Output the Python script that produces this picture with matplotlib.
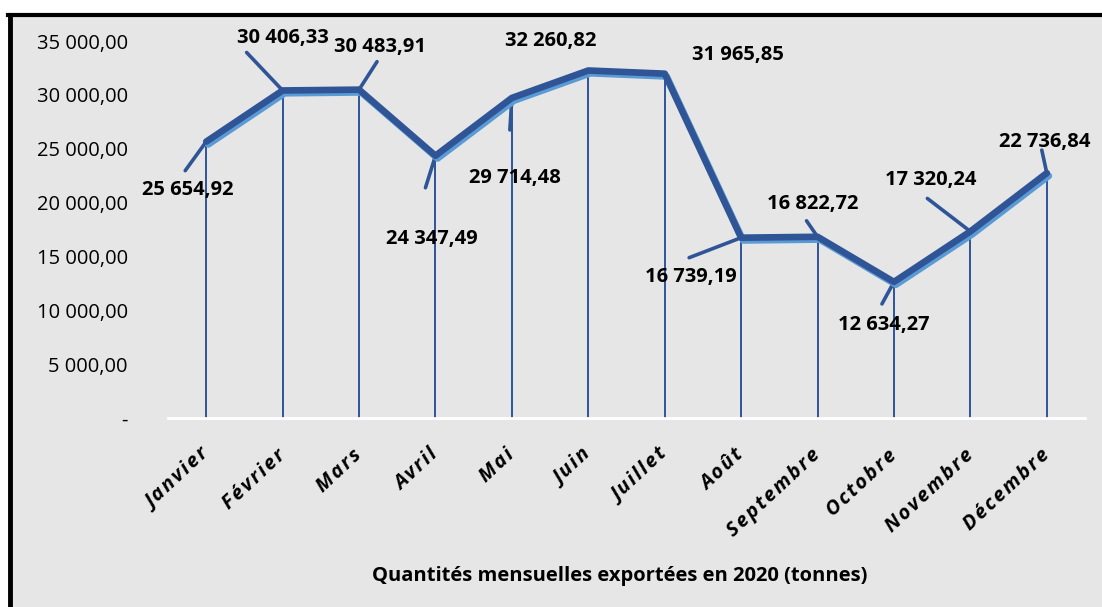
import matplotlib.pyplot as plt
import matplotlib.patheffects as pe
from matplotlib.patches import Rectangle

# ----------------------------
# Data
# ----------------------------
MONTHS = ["Janvier", "Février", "Mars", "Avril", "Mai", "Juin", "Juillet",
          "Août", "Septembre", "Octobre", "Novembre", "Décembre"]
QTY = [25654.92, 30406.33, 30483.91, 24347.49, 29714.48, 32260.82,
       31965.85, 16739.19, 16822.72, 12634.27, 17320.24, 22736.84]
Y_TICKS = [0, 5000, 10000, 15000, 20000, 25000, 30000, 35000]
TITLE = "Quantités mensuelles exportées en 2020 (tonnes)"

# label offsets (pixels) from the point: text centre, leader end (None = no leader)
LABEL_OFF = [(-18, -48), (0, 52), (21, 43), (-4, -83), (3, -80), (-38, 30),
             (73, 19), (-50, -39), (-5, 33), (-10, -43), (-40, 51), (-2, 31)]
LEADER_OFF = [(-21, -29), (-36, 38), (18, 28), (-10, -32), (-2, -32), None,
              None, (-52, -20), (-11, 16), (-12, -22), (-43, 33), (-5, 23)]

DARK = "#2F5597"
LIGHT = "#5B9BD5"
BG = "#E6E6E6"
FONT = ["Open Sans", "DejaVu Sans"]


def fr_num(v):
    if v == 0:
        return "-"
    s = f"{v:,.2f}"
    return s.replace(",", " ").replace(".", ",")


def spaced(s):
    # loose letter spacing like the original axis labels
    return "\u200a".join(s)


fig = plt.figure(figsize=(11.02, 6.07), dpi=100)
fig.patch.set_facecolor("white")

# grey panel with black frame (top + left edges visible)
fig.patches.append(Rectangle((10 / 1102, 0), 1, 1 - 15 / 607, transform=fig.transFigure,
                             facecolor=BG, edgecolor="none", zorder=0))
fig.add_artist(plt.Line2D([10 / 1102, 10 / 1102], [0, 1 - 15 / 607], color="black",
                          lw=3.5, transform=fig.transFigure, zorder=1))
fig.add_artist(plt.Line2D([8 / 1102, 1], [1 - 15 / 607, 1 - 15 / 607], color="black",
                          lw=3, transform=fig.transFigure, zorder=1))

ax = fig.add_axes([168 / 1102, 1 - 418 / 607, (1085 - 168) / 1102, (418 - 41) / 607])
ax.set_zorder(5)
ax.patch.set_alpha(0)

x = list(range(len(MONTHS)))
ax.set_xlim(-0.5, 11.5)
ax.set_ylim(0, 35000)

# drop lines
ax.vlines(x, 0, QTY, color=DARK, lw=1.4, zorder=2)

ax.plot(x, QTY, color=DARK, lw=4.8, solid_joinstyle="round", solid_capstyle="round", zorder=4,
        path_effects=[pe.SimpleLineShadow(offset=(1.5, -2), shadow_color=LIGHT, alpha=1),
                      pe.Normal()])

for i, v in enumerate(QTY):
    tx, ty = LABEL_OFF[i]
    ax.annotate(fr_num(v), (i, v), xytext=(tx, ty), textcoords="offset pixels",
                ha="center", va="center", fontsize=14.5, fontweight="bold",
                family=FONT, color="black", zorder=5, annotation_clip=False)
    if LEADER_OFF[i] is not None:
        lx, ly = LEADER_OFF[i]
        ax.annotate("", (i, v), xytext=(lx, ly), textcoords="offset pixels",
                    arrowprops=dict(arrowstyle="-", color=DARK, lw=2.6,
                                    shrinkA=0, shrinkB=0), zorder=3)

for s in ["top", "right", "left"]:
    ax.spines[s].set_visible(False)
ax.spines["bottom"].set_color("white")
ax.spines["bottom"].set_linewidth(2)

ax.set_yticks(Y_TICKS)
ax.set_yticklabels([fr_num(t) for t in Y_TICKS], family=FONT, fontsize=14.5)
ax.tick_params(axis="y", length=0, pad=29)

ax.set_xticks(x)
ax.set_xticklabels([spaced(m) for m in MONTHS], rotation=43, ha="right", va="center",
                   rotation_mode="anchor", family=FONT, fontsize=14.5,
                   fontweight="bold", fontstyle="italic")
ax.tick_params(axis="x", length=0, pad=25)

fig.text(620 / 1102, 1 - 576 / 607, TITLE, ha="center", va="center", family=FONT,
         fontsize=14.5, fontweight="bold", zorder=6)

fig.savefig("out.png", dpi=100)
